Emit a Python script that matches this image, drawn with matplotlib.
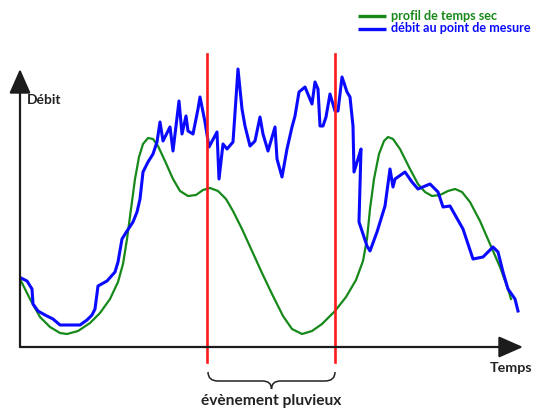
import matplotlib
matplotlib.use("Agg")
import matplotlib.pyplot as plt
from matplotlib.path import Path
from matplotlib.patches import PathPatch
import numpy as np

plt.rcParams['font.family'] = ['Lato', 'DejaVu Sans']

# values: time (px from y axis) and flow (px above x axis)
dry_t = [1, 10, 20, 30, 40, 47, 58, 70, 80, 90, 98, 103, 107, 111, 115, 119, 123, 128,
         133, 138, 145, 153, 160, 168, 176, 183, 190, 198, 206, 213, 222, 232, 242, 252,
         263, 272, 282, 292, 302, 315, 326, 336, 343, 347, 350, 354, 359, 364, 368, 373,
         380, 390, 398, 405, 412, 420, 428, 435, 442, 450, 460, 470, 480, 488, 491]
dry_q = [66, 48, 30, 20, 14, 13, 16, 24, 34, 48, 65, 83, 108, 138, 168, 190, 203, 209,
         208, 201, 186, 168, 156, 151, 152, 157, 159, 156, 148, 136, 118, 96, 74, 53,
         31, 18, 13, 16, 23, 36, 50, 67, 86, 108, 138, 168, 193, 206, 210, 208,
         198, 178, 163, 155, 151, 152, 156, 158, 155, 145, 126, 103, 80, 58, 48]

flow_t = [1, 7, 12, 13, 18, 25, 33, 40, 50, 60, 67, 72, 75, 78, 87, 95, 98, 102, 107,
          113, 117, 120, 123, 128, 133, 137, 140, 143, 150, 153, 159, 162, 166, 168, 173,
          178, 180, 185, 189, 197, 199, 203, 207, 213, 218, 222, 225, 230, 235, 240, 243,
          248, 255, 257, 262, 267, 272, 275, 279, 285, 292, 295, 298, 300, 303, 306, 310,
          315, 318, 322, 327, 330, 333, 334, 338, 341, 339, 347, 350, 357, 365, 370, 373,
          375, 385, 392, 398, 410, 418, 423, 430, 443, 453, 463, 473, 478, 483, 488, 495, 498]
flow_q = [69, 66, 58, 43, 36, 32, 28, 22, 22, 22, 27, 32, 38, 61, 66, 75, 85, 108, 116,
          125, 135, 148, 175, 185, 193, 205, 225, 206, 220, 196, 246, 213, 231, 216, 213,
          238, 250, 225, 200, 215, 168, 203, 198, 205, 278, 238, 221, 201, 206, 230, 213,
          196, 220, 188, 170, 198, 220, 231, 255, 260, 243, 265, 258, 221, 221, 230, 253,
          236, 236, 270, 255, 250, 221, 175, 188, 198, 125, 101, 96, 115, 141, 178, 160,
          168, 175, 165, 158, 163, 155, 140, 141, 118, 88, 90, 100, 95, 75, 58, 48, 36]

event_start = 187
event_end = 315

legend_labels = ["profil de temps sec", "débit au point de mesure"]
axis_labels = ["Débit", "Temps"]
event_label = "évènement pluvieux"

fig = plt.figure(figsize=(5.43, 4.10), dpi=100)
ax = fig.add_axes([0, 0, 1, 1])
ax.set_xlim(-20, 523)
ax.set_ylim(-62, 348)
ax.axis('off')

green = '#17891a'
blue = '#0a0aff'
red = '#ff1a1a'

ax.plot(dry_t, dry_q, color=green, lw=1.6, zorder=3)
ax.plot(flow_t, flow_q, color=blue, lw=2.2, zorder=4, solid_joinstyle='round')

# rain event limits
for x in (event_start, event_end):
    ax.plot([x, x], [-15, 293], color=red, lw=1.9, zorder=5)

# axes with arrows
arrow = dict(arrowstyle='-|>,head_length=0.75,head_width=0.33', mutation_scale=20,
             color='#1c1c1c', lw=1.6, shrinkA=0, shrinkB=0)
ax.annotate('', xy=(503, 0), xytext=(0, 0), arrowprops=arrow, zorder=6)
ax.annotate('', xy=(0, 278), xytext=(0, 0), arrowprops=arrow, zorder=6)

ax.text(7, 248, axis_labels[0], fontsize=10, fontweight='bold', color='#222222',
        ha='left', va='center')
ax.text(491, -20, axis_labels[1], fontsize=10.3, fontweight='bold', color='#222222',
        ha='center', va='center')

# curly brace under the event
x0, x1 = event_start + 1, event_end
xm = (x0 + x1) / 2
yt, yh, yb = -25, -34, -42
verts = [(x0, yt), (x0, yh), (x0 + 10, yh), (xm - 9, yh), (xm, yh), (xm, yb),
         (xm, yh), (xm + 9, yh), (x1 - 10, yh), (x1, yh), (x1, yt)]
codes = [Path.MOVETO, Path.CURVE3, Path.CURVE3, Path.LINETO, Path.CURVE3, Path.CURVE3,
         Path.CURVE3, Path.CURVE3, Path.LINETO, Path.CURVE3, Path.CURVE3]
ax.add_patch(PathPatch(Path(verts, codes), fill=False, color='#222222', lw=1.1))
ax.text(xm, -53, event_label, fontsize=11.2, fontweight='bold', color='#222222',
        ha='center', va='center')

# legend at the top right
for i, (lab, col) in enumerate(zip(legend_labels, [green, blue])):
    y = 331 - 13 * i
    ax.plot([338, 366], [y, y], color=col, lw=2.4, solid_capstyle='butt')
    ax.text(371, y + 1.5, lab, fontsize=9.1, fontweight='bold', color=col,
            ha='left', va='center')

fig.savefig('out.png', dpi=100)
